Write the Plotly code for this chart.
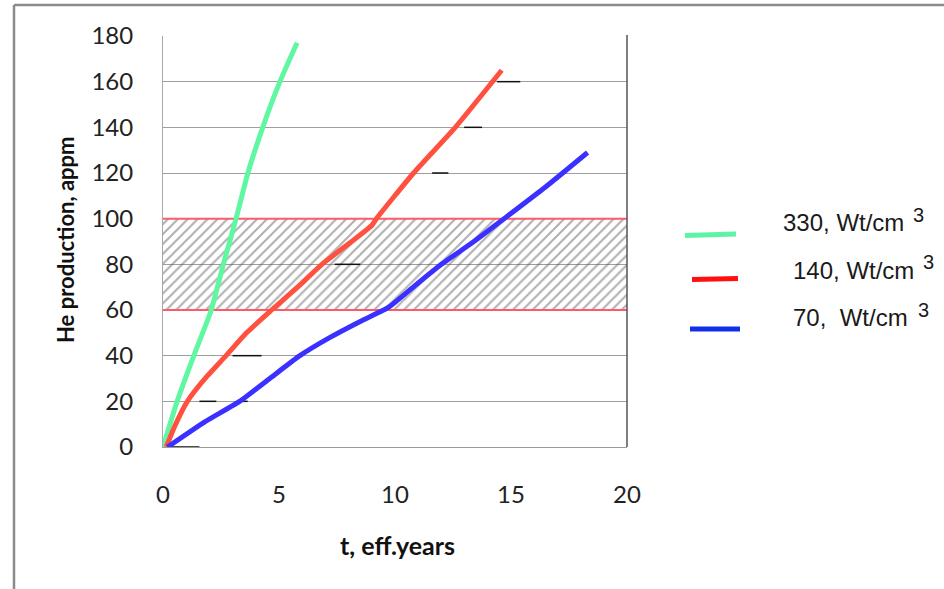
import plotly.graph_objects as go

# ---------------- data ----------------
t_330 = [0, 0.61, 1.33, 2.08, 2.6, 3.15, 3.66, 4.3, 5.04, 5.78]
he_330 = [0, 20, 40, 60, 80, 100, 120, 140, 160, 177]

t_140 = [0.14, 0.5, 1.05, 1.9, 2.72, 3.6, 4.68, 5.8, 6.85, 8.0, 9.0, 9.2, 10.8, 12.6, 14.6]
he_140 = [0, 9, 20, 31, 40, 50, 60, 70, 80, 89, 97, 100, 120, 140, 165]

t_70 = [0.2, 1.8, 3.3, 4.6, 5.9, 7.2, 8.5, 9.7, 10.9, 12.0, 13.4, 14.7, 16.5, 18.3]
he_70 = [0, 11, 20, 30, 40, 48, 55, 61, 71, 80, 90, 100, 114, 129]

band_low = 60
band_high = 100
x_range = [0, 20]
y_range = [0, 180]

dash_levels = [0, 20, 20, 40, 80, 120, 140, 160]
dash_start = [0.2, 1.57, 3.4, 3.0, 7.4, 11.6, 12.98, 14.4]
dash_end = [1.57, 2.3, 3.65, 4.25, 8.5, 12.3, 13.75, 15.4]

legend_labels = ["330, Wt/cm", "140, Wt/cm", "70,  Wt/cm"]
legend_colors = ["#5cf5a4", "#ff1010", "#1030e8"]
curve_colors = ["#5ff7a2", "#ff5040", "#3a30ff"]

# ---------------- layout geometry ----------------
W, H = 944, 589
L, R, T, B = 163, 627, 36, 447

def px(xp):
    return (xp - L) / (R - L)

def py(yp):
    return (B - yp) / (B - T)

fig = go.Figure()

# hatched band
fig.add_trace(go.Scatter(
    x=[x_range[0], x_range[1], x_range[1], x_range[0], x_range[0]],
    y=[band_low, band_low, band_high, band_high, band_low],
    fill="toself", mode="lines", line=dict(width=0, color="rgba(0,0,0,0)"),
    fillcolor="rgba(0,0,0,0)",
    fillpattern=dict(shape="/", fgcolor="#5e5e5e", bgcolor="rgba(0,0,0,0)",
                     size=7, solidity=0.28),
    hoverinfo="skip", showlegend=False))

for lvl in (band_low, band_high):
    fig.add_trace(go.Scatter(x=x_range, y=[lvl, lvl], mode="lines",
                             line=dict(color="#ff5a6a", width=2),
                             hoverinfo="skip", showlegend=False))

# small black dash marks
dx, dy = [], []
for lv, a, b in zip(dash_levels, dash_start, dash_end):
    dx += [a, b, None]
    dy += [lv, lv, None]
fig.add_trace(go.Scatter(x=dx, y=dy, mode="lines",
                         line=dict(color="#111111", width=1.5),
                         hoverinfo="skip", showlegend=False))

# curves
for xs, ys, c in [(t_330, he_330, curve_colors[0]),
                  (t_140, he_140, curve_colors[1]),
                  (t_70, he_70, curve_colors[2])]:
    fig.add_trace(go.Scatter(x=xs, y=ys, mode="lines",
                             line=dict(color=c, width=5, shape="spline", smoothing=0.5),
                             showlegend=False))

shapes = []
# right border of plot area
shapes.append(dict(type="line", xref="paper", yref="paper", x0=1, x1=1,
                   y0=py(447), y1=py(35), line=dict(color="#555555", width=1.5)))
# outer frame (left and top)
shapes.append(dict(type="line", xref="paper", yref="paper", x0=px(14), x1=px(14),
                   y0=py(5), y1=py(589), line=dict(color="#8c8c8c", width=2.5)))
shapes.append(dict(type="line", xref="paper", yref="paper", x0=px(14), x1=px(944),
                   y0=py(5), y1=py(5), line=dict(color="#8c8c8c", width=2.5)))

# legend lines
leg_lines = [((685, 235.5), (736, 234)), ((692, 279.5), (738, 278.5)), ((690, 329), (740, 329))]
for (p0, p1), c in zip(leg_lines, legend_colors):
    shapes.append(dict(type="line", xref="paper", yref="paper",
                       x0=px(p0[0]), y0=py(p0[1]), x1=px(p1[0]), y1=py(p1[1]),
                       line=dict(color=c, width=5)))

annotations = []
leg_text_pos = [(781, 222), (791, 270), (791, 317)]
leg_sup_pos = [(918, 215), (928, 262), (923, 310)]
for lab, (tx, ty), (sx, sy) in zip(legend_labels, leg_text_pos, leg_sup_pos):
    annotations.append(dict(text=lab, x=px(tx), y=py(ty), xref="paper", yref="paper",
                            xanchor="left", yanchor="middle", showarrow=False,
                            font=dict(family="Liberation Sans", size=24, color="#1a1a1a")))
    annotations.append(dict(text="3", x=px(sx), y=py(sy), xref="paper", yref="paper",
                            xanchor="center", yanchor="middle", showarrow=False,
                            font=dict(family="Liberation Sans", size=20, color="#1a1a1a")))

# axis titles
annotations.append(dict(text="<b>t, eff.years</b>", x=px(397), y=py(545), xref="paper",
                        yref="paper", xanchor="center", yanchor="middle", showarrow=False,
                        font=dict(family="Lato", size=25, color="#111111")))
annotations.append(dict(text="<b>He production, appm</b>", x=px(66), y=py(240), xref="paper",
                        yref="paper", xanchor="center", yanchor="middle", showarrow=False,
                        textangle=-90,
                        font=dict(family="Lato", size=22, color="#111111")))

fig.update_layout(
    width=W, height=H,
    margin=dict(l=L, r=W - R, t=T, b=H - B),
    paper_bgcolor="white", plot_bgcolor="white",
    shapes=shapes, annotations=annotations,
    xaxis=dict(range=x_range, dtick=5, tick0=0, showgrid=False, zeroline=False,
               showline=True, linecolor="#9a9a9a", linewidth=1,
               ticks="outside", ticklen=0, ticklabelstandoff=26,
               tickfont=dict(family="Lato", size=24, color="#222222")),
    yaxis=dict(range=y_range, dtick=20, tick0=0, showgrid=True, gridcolor="#9e9e9e",
               gridwidth=1, zeroline=False, showline=True, linecolor="#a8a8a8",
               linewidth=1, ticks="outside", ticklen=0, ticklabelstandoff=24,
               tickfont=dict(family="Lato", size=24, color="#222222")),
)

fig.write_html("out.html")
